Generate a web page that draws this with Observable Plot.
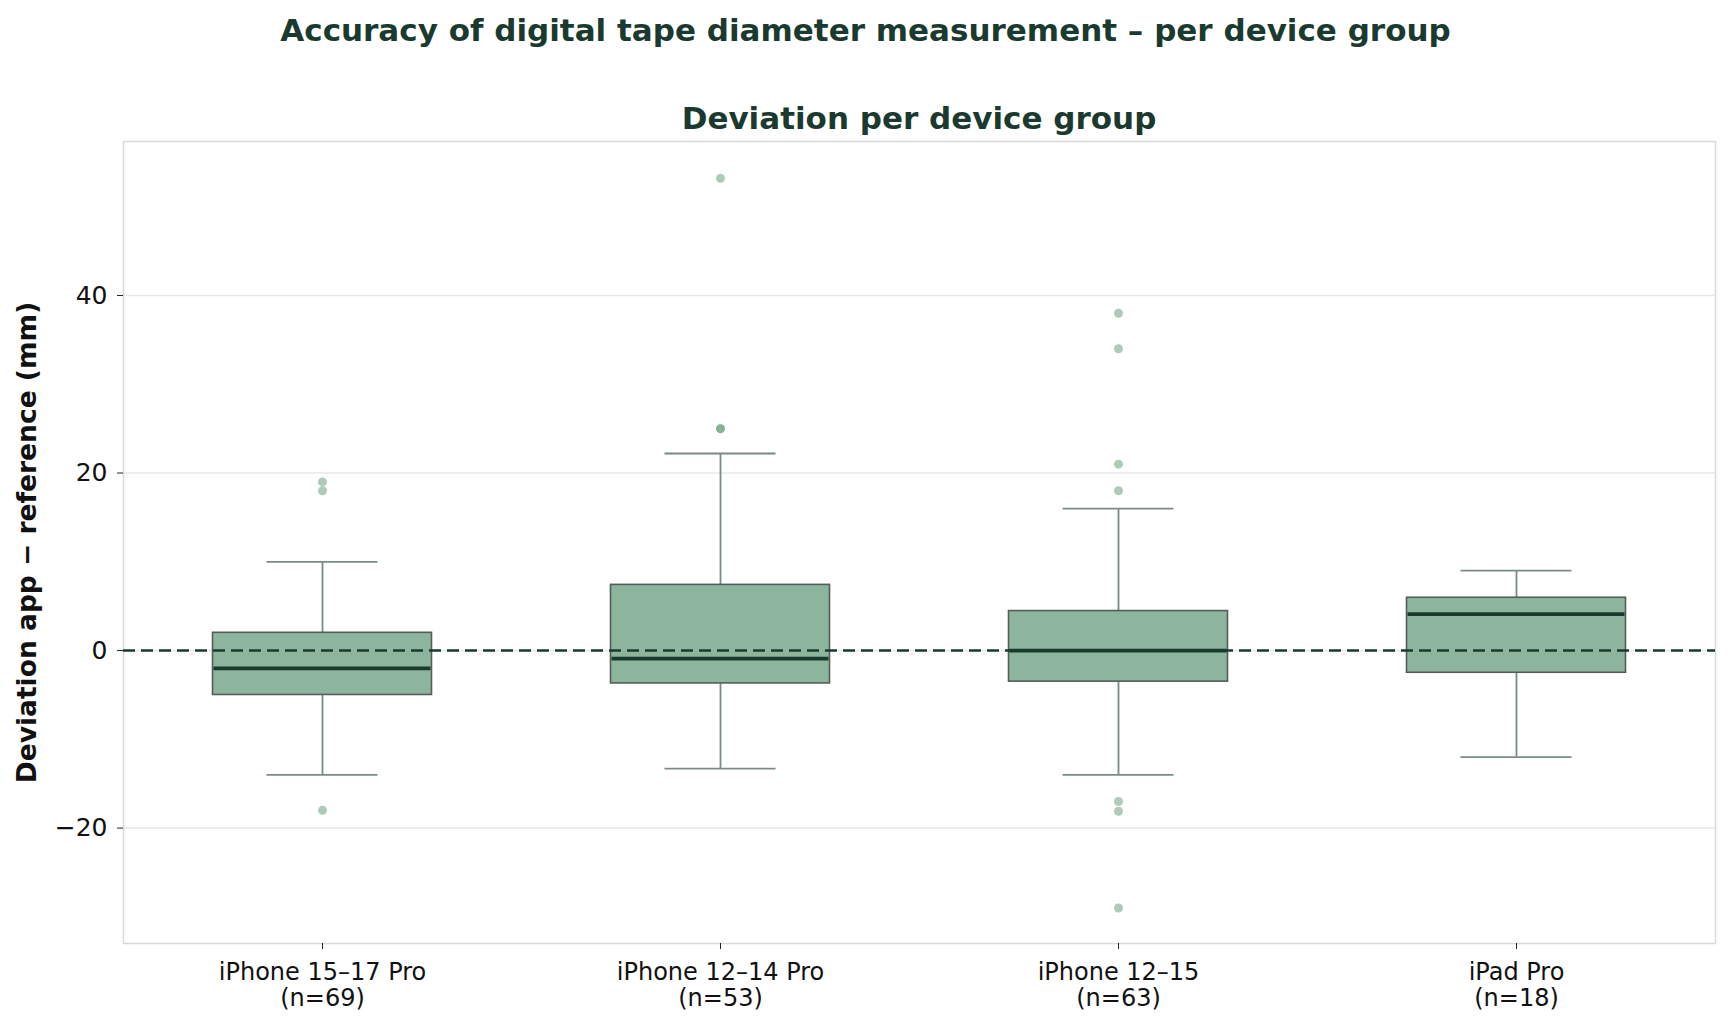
<!DOCTYPE html>
<html>
<head>
<meta charset="utf-8">
<script src="https://cdn.jsdelivr.net/npm/d3@7"></script>
<script src="https://cdn.jsdelivr.net/npm/@observablehq/plot@0.6"></script>
<style>
  html, body { margin: 0; padding: 0; background: #fff; }
  #wrap { position: relative; width: 1731px; height: 1027px; font-family: "DejaVu Sans", sans-serif; }
  #head { position: relative; width: 1731px; height: 135px; }
  .t { position: absolute; font-weight: bold; color: #1b3a2f; line-height: 32px; white-space: nowrap; text-align: center; }
  #title { left: 0; width: 1731px; top: 14px; font-size: 31px; }
  #subtitle { left: 123px; width: 1592px; top: 102px; font-size: 31px; }
</style>
</head>
<body>
<div id="wrap">
  <div id="head">
    <div class="t" id="title">Accuracy of digital tape diameter measurement – per device group</div>
    <div class="t" id="subtitle">Deviation per device group</div>
  </div>
  <div id="chart"></div>
</div>
<script>
// ---- data ----
const groups = ["iPhone 15–17 Pro", "iPhone 12–14 Pro", "iPhone 12–15", "iPad Pro"];
const counts = [69, 53, 63, 18];
const q1 = [-5, -3.7, -3.5, -2.5];
const median = [-2, -0.9, 0, 4.1];
const q3 = [2, 7.4, 4.45, 5.95];
const whiskerLow = [-14, -13.3, -14, -12];
const whiskerHigh = [10, 22.2, 16, 9];
const outliers = [
  [19, 18, -18],
  [53.2, 25, 25],
  [38, 34, 21, 18, -17, -18.1, -29],
  []
];
const yTicks = [-20, 0, 20, 40];
const yLabel = "Deviation app − reference (mm)";

// ---- tables built from the arrays ----
const rows = groups.map((g, i) => ({
  group: g, q1: q1[i], median: median[i], q3: q3[i], lo: whiskerLow[i], hi: whiskerHigh[i]
}));
const outlierRows = groups.flatMap((g, i) => outliers[i].map(v => ({group: g, value: v})));
const countOf = new Map(groups.map((g, i) => [g, counts[i]]));

const boxInset = 89.5;
const capInset = 143.5;
const ink = "#1b3a2f";

const chart = Plot.plot({
  width: 1731,
  height: 892,
  marginTop: 6,
  marginBottom: 84,
  marginLeft: 123,
  marginRight: 16,
  style: {fontFamily: "DejaVu Sans, sans-serif", fontSize: "24px", color: "#111", background: "#fff", overflow: "visible"},
  x: {type: "band", domain: groups, padding: 0, axis: null},
  y: {domain: [-33, 57.35], nice: false, axis: null},
  marks: [
    Plot.gridY(yTicks, {stroke: "#e8e8e8", strokeOpacity: 1, strokeWidth: 1.5}),
    Plot.frame({stroke: "#d4dbd8", strokeWidth: 1.5}),
    Plot.axisY(yTicks, {tickSize: 6, tickPadding: 10, stroke: "#222", fontSize: 25, label: null}),
    Plot.axisX({tickSize: 6, tickPadding: 11, stroke: "#222", fontSize: 24, lineHeight: 1.12,
      tickFormat: d => `${d}\n(n=${countOf.get(d)})`, label: null}),
    Plot.text([yLabel], {frameAnchor: "left", textAnchor: "middle", rotate: -90, dx: -96, fontWeight: "bold", fontSize: 26.5, fill: "#111"}),
    Plot.ruleX(rows, {x: "group", y1: "lo", y2: "hi", stroke: "#7a8b85", strokeWidth: 1.8}),
    Plot.tickY(rows, {x: "group", y: "lo", stroke: "#7a8b85", strokeWidth: 1.8, insetLeft: capInset, insetRight: capInset}),
    Plot.tickY(rows, {x: "group", y: "hi", stroke: "#7a8b85", strokeWidth: 1.8, insetLeft: capInset, insetRight: capInset}),
    Plot.barY(rows, {x: "group", y1: "q1", y2: "q3", fill: "#8db59d", stroke: "#555d58", strokeWidth: 1.6, insetLeft: boxInset, insetRight: boxInset}),
    Plot.ruleY([0], {stroke: ink, strokeWidth: 2.5, strokeDasharray: "12,6"}),
    Plot.tickY(rows, {x: "group", y: "median", stroke: ink, strokeWidth: 3.8, insetLeft: boxInset + 1, insetRight: boxInset + 1}),
    Plot.dot(outlierRows, {x: "group", y: "value", r: 4.5, fill: "rgb(93,151,113)", fillOpacity: 0.5, stroke: "none"})
  ]
});
document.getElementById("chart").appendChild(chart);
</script>
</body>
</html>
